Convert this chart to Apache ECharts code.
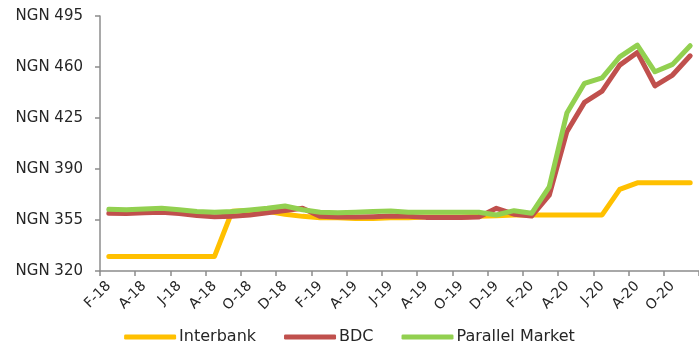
<!DOCTYPE html>
<html>
<head>
<meta charset="utf-8">
<script src="https://cdn.jsdelivr.net/npm/echarts@6/dist/echarts.min.js"></script>
<style>html,body{margin:0;padding:0;background:#fff;}#c{width:699px;height:356px;}</style>
</head>
<body>
<div id="c"></div>
<script>
const categories = ["F-18","M-18","A-18","M-18","J-18","J-18","A-18","S-18","O-18","N-18","D-18",
  "J-19","F-19","M-19","A-19","M-19","J-19","J-19","A-19","S-19","O-19","N-19","D-19",
  "J-20","F-20","M-20","A-20","M-20","J-20","J-20","A-20","S-20","O-20","N-20"];
const interbank = [330,330,330,330,330,330,330,361,361.5,361,359,357.5,356.5,356.5,356,356,356.5,356.5,357,357,357,357.5,358,358.5,358.5,358.5,358.5,358.5,358.5,376,380.5,380.5,380.5,380.5];
const bdc = [359.6,359.5,360,360.3,359.5,358,357.3,357.5,358.5,360,361.5,363,357.5,357,357,357.3,357.8,357.5,356.8,356.8,356.8,357,363,359,357.7,372,415.6,435.7,443.5,461.3,470,447,454.5,467.7];
const parallel = [362.3,362,362.5,363,362,360.8,360.3,360.8,361.8,363,364.6,362,360.3,360,360.3,360.8,361.2,360.3,360.3,360.3,360.3,360.3,358.4,361.4,359.6,377.8,428.4,448.8,452.6,467,475,456.7,461.8,474.6];
const yTicks = {min: 320, max: 495, step: 35};

const font = "DejaVu Sans";
const axisColor = "#8c8c8c";
const chart = echarts.init(document.getElementById('c'), null, {renderer: 'canvas'});
const mk = (name, data, color) => ({
  name, type: 'line', data, symbol: 'none', smooth: false,
  lineStyle: {width: 5, color, cap: 'round', join: 'round'},
  itemStyle: {color}, animation: false
});
chart.setOption({
  animation: false,
  textStyle: {fontFamily: font},
  grid: {left: 100, top: 16, width: 603.5, height: 255, containLabel: false},
  legend: {
    bottom: 6, left: 'center', itemWidth: 52, itemHeight: 5, itemGap: 28,
    icon: 'roundRect',
    textStyle: {fontFamily: font, fontSize: 16, color: '#262626', padding: [0, 0, 0, -2]},
    data: ['Interbank', 'BDC', 'Parallel Market']
  },
  xAxis: {
    type: 'category', data: categories, boundaryGap: true,
    axisLine: {lineStyle: {color: axisColor, width: 1.5}},
    axisTick: {show: true, interval: 1, length: 5, lineStyle: {color: axisColor, width: 1.5}},
    axisLabel: {interval: 1, rotate: 45, fontSize: 14, color: '#262626', fontFamily: font, margin: 13}
  },
  yAxis: {
    type: 'value', min: yTicks.min, max: yTicks.max, interval: yTicks.step,
    splitLine: {show: false},
    axisLine: {show: true, lineStyle: {color: axisColor, width: 1.5}},
    axisTick: {show: true, length: 5, lineStyle: {color: axisColor, width: 1.5}},
    axisLabel: {formatter: v => 'NGN ' + v, fontSize: 15, color: '#262626', fontFamily: font, margin: 17}
  },
  series: [
    mk('Interbank', interbank, '#FFC000'),
    mk('BDC', bdc, '#C0504D'),
    mk('Parallel Market', parallel, '#92D050')
  ]
});
</script>
</body>
</html>
